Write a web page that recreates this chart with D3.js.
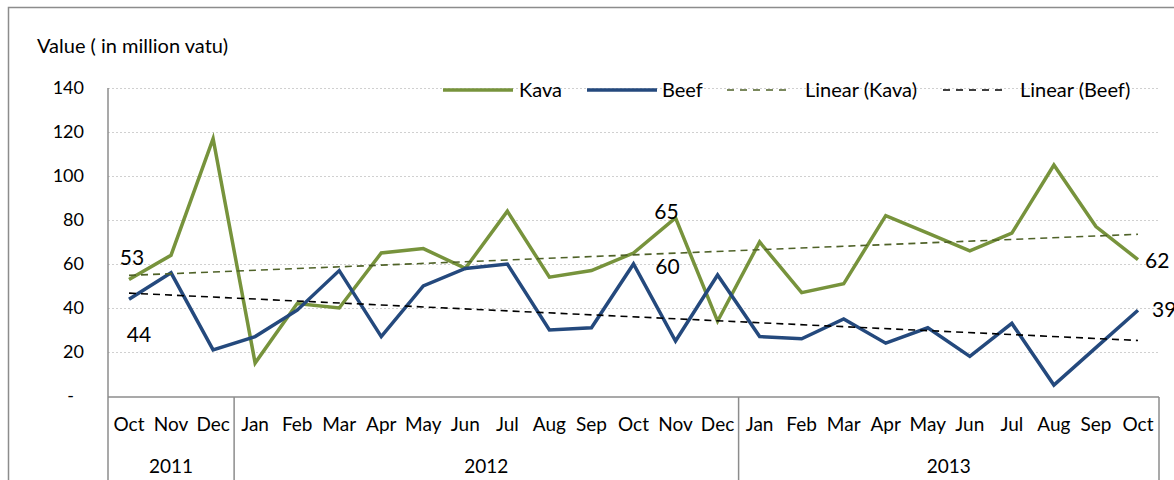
<!DOCTYPE html>
<html>
  <head>
    <meta charset="utf-8">
    <title>Kava and Beef exports</title>
    <script src="https://cdn.jsdelivr.net/npm/d3@7"></script>
    <style>
      body { margin: 0; background: #fff; }
      text { font-family: 'Lato', 'Open Sans', sans-serif; fill: #000; }
      .tick_label { font-size: 18px; text-anchor: end; }
      .month_label { font-size: 19px; text-anchor: middle; }
      .year_label { font-size: 19px; text-anchor: middle; }
      .axis_title { font-size: 20px; }
      .legend_text { font-size: 20px; }
      .data_label { font-size: 21px; }
      .grid { stroke: #d0d0d0; stroke-width: 1px; stroke-dasharray: 2,2; }
      .axis_line { stroke: #8c8c8c; stroke-width: 1.5px; fill: none; }
      .series { fill: none; stroke-width: 3.5px; stroke-linejoin: miter; }
      .trend { fill: none; stroke-width: 1.6px; stroke-dasharray: 7,5; }
    </style>
  </head>
  <body>
    <script>

      // data
      var months = ['Oct', 'Nov', 'Dec',
                    'Jan', 'Feb', 'Mar', 'Apr', 'May', 'Jun', 'Jul', 'Aug', 'Sep', 'Oct', 'Nov', 'Dec',
                    'Jan', 'Feb', 'Mar', 'Apr', 'May', 'Jun', 'Jul', 'Aug', 'Sep', 'Oct'];
      var years = ['2011', '2012', '2013'];
      var monthsPerYear = [3, 12, 10];

      var kava = [53, 64, 117, 15, 42, 40, 65, 67, 58, 84, 54, 57, 65, 81, 34, 70, 47, 51, 82, 74, 66, 74, 105, 77, 62];
      var beef = [44, 56, 21, 27, 39, 57, 27, 50, 58, 60, 30, 31, 60, 25, 55, 27, 26, 35, 24, 31, 18, 33, 5, 22, 39];

      var yTicks = [0, 20, 40, 60, 80, 100, 120, 140];

      // labelled points: [series, index]
      var labelled = [['kava', 0], ['beef', 0], ['kava', 12], ['beef', 12], ['kava', 24], ['beef', 24]];

      var kavaColor = '#77933c';
      var beefColor = '#24497d';
      var kavaTrendColor = '#4f6228';
      var beefTrendColor = '#000000';

      // layout
      var outerWidth = 1174;
      var outerHeight = 480;
      var plot = { left: 108, right: 1159, top: 88, bottom: 396 };

      var svg = d3.select('body').append('svg')
        .attr('width', outerWidth)
        .attr('height', outerHeight);

      // chart border
      svg.append('rect')
        .attr('x', 8.5).attr('y', 7.5)
        .attr('width', 1200).attr('height', 500)
        .attr('fill', 'none')
        .attr('stroke', '#8c8c8c')
        .attr('stroke-width', 1.5);

      var keys = months.map(function(m, i) { return i; });

      var xScale = d3.scaleBand()
        .domain(keys)
        .range([plot.left, plot.right])
        .padding(0);

      var xc = function(i) { return xScale(i) + xScale.bandwidth() / 2; };

      var yScale = d3.scaleLinear()
        .domain([0, 140])
        .range([plot.bottom, plot.top]);

      // grid lines
      svg.selectAll('.grid')
        .data(yTicks.filter(function(d) { return d > 0; }))
        .enter()
        .append('line')
        .attr('class', 'grid')
        .attr('x1', plot.left).attr('x2', plot.right)
        .attr('y1', function(d) { return Math.round(yScale(d)) + 0.5; })
        .attr('y2', function(d) { return Math.round(yScale(d)) + 0.5; });

      // y tick labels
      svg.selectAll('.tick_label')
        .data(yTicks)
        .enter()
        .append('text')
        .attr('class', 'tick_label')
        .attr('x', function(d) { return d == 0 ? 74 : 84; })
        .attr('y', function(d) { return yScale(d) + 6; })
        .text(function(d) { return d == 0 ? '-' : d; });

      svg.append('text')
        .attr('class', 'axis_title')
        .attr('x', 37)
        .attr('y', 53)
        .text('Value ( in million vatu)');

      // axes
      svg.append('line')
        .attr('class', 'axis_line')
        .attr('x1', plot.left).attr('x2', plot.left)
        .attr('y1', plot.top).attr('y2', outerHeight);

      svg.append('line')
        .attr('class', 'axis_line')
        .attr('x1', plot.left).attr('x2', plot.right)
        .attr('y1', plot.bottom + 1).attr('y2', plot.bottom + 1);

      // year separators and labels
      var start = 0;
      var yearGroups = years.map(function(y, i) {
        var g = { year: y, first: start, last: start + monthsPerYear[i] - 1 };
        start += monthsPerYear[i];
        return g;
      });

      svg.selectAll('.separator')
        .data(yearGroups)
        .enter()
        .append('line')
        .attr('class', 'axis_line')
        .attr('x1', function(d) { return xScale(d.last) + xScale.bandwidth(); })
        .attr('x2', function(d) { return xScale(d.last) + xScale.bandwidth(); })
        .attr('y1', plot.bottom + 1)
        .attr('y2', outerHeight);

      svg.selectAll('.year_label')
        .data(yearGroups)
        .enter()
        .append('text')
        .attr('class', 'year_label')
        .attr('x', function(d) { return (xScale(d.first) + xScale(d.last) + xScale.bandwidth()) / 2; })
        .attr('y', 473)
        .text(function(d) { return d.year; });

      svg.selectAll('.month_label')
        .data(months)
        .enter()
        .append('text')
        .attr('class', 'month_label')
        .attr('x', function(d, i) { return xc(i); })
        .attr('y', 431)
        .text(function(d) { return d; });

      // trend lines (least squares, like Excel's linear trendline)
      function trend(values) {
        var n = values.length;
        var mx = d3.mean(keys), my = d3.mean(values);
        var sxy = d3.sum(keys, function(k, i) { return (k - mx) * (values[i] - my); });
        var sxx = d3.sum(keys, function(k) { return (k - mx) * (k - mx); });
        var b = sxy / sxx, a = my - b * mx;
        return [[0, a], [n - 1, a + b * (n - 1)]];
      }

      var line = d3.line()
        .x(function(d) { return xc(d[0]); })
        .y(function(d) { return yScale(d[1]); });

      var series = [
        { name: 'kava', values: kava, color: kavaColor },
        { name: 'beef', values: beef, color: beefColor }
      ];

      svg.selectAll('.series')
        .data(series)
        .enter()
        .append('path')
        .attr('class', 'series')
        .attr('stroke', function(d) { return d.color; })
        .attr('d', function(d) { return line(d.values.map(function(v, i) { return [i, v]; })); });

      svg.append('path')
        .attr('class', 'trend')
        .attr('stroke', kavaTrendColor)
        .attr('d', line(trend(kava)));

      svg.append('path')
        .attr('class', 'trend')
        .attr('stroke', beefTrendColor)
        .attr('d', line(trend(beef)));

      // data labels
      var offsets = {
        'kava0': [3, -14, 'middle'], 'beef0': [10, 43, 'middle'],
        'kava12': [33, -34, 'middle'], 'beef12': [34, 10, 'middle'],
        'kava24': [7, 8, 'start'], 'beef24': [14, 7, 'start']
      };
      svg.selectAll('.data_label')
        .data(labelled)
        .enter()
        .append('text')
        .attr('class', 'data_label')
        .attr('text-anchor', function(d) { return offsets[d[0] + d[1]][2]; })
        .attr('x', function(d) { return xc(d[1]) + offsets[d[0] + d[1]][0]; })
        .attr('y', function(d) {
          var v = d[0] == 'kava' ? kava[d[1]] : beef[d[1]];
          return yScale(v) + offsets[d[0] + d[1]][1];
        })
        .text(function(d) { return d[0] == 'kava' ? kava[d[1]] : beef[d[1]]; });

      // legend (no background, gridline shows through)
      var legendItems = [
        { label: 'Kava', color: kavaColor, dash: null, width: 3.5, x: 443, len: 70, tx: 76 },
        { label: 'Beef', color: beefColor, dash: null, width: 3.5, x: 587, len: 70, tx: 75 },
        { label: 'Linear (Kava)', color: kavaTrendColor, dash: '7,6', width: 1.6, x: 727, len: 64, tx: 78 },
        { label: 'Linear (Beef)', color: beefTrendColor, dash: '7,6', width: 1.6, x: 943, len: 64, tx: 77 }
      ];

      var li = svg.selectAll('.legend_item')
        .data(legendItems)
        .enter()
        .append('g')
        .attr('transform', function(d) { return 'translate(' + d.x + ',90)'; });

      li.append('line')
        .attr('x1', 0).attr('x2', function(d) { return d.len; })
        .attr('stroke', function(d) { return d.color; })
        .attr('stroke-width', function(d) { return d.width; })
        .attr('stroke-dasharray', function(d) { return d.dash; });

      li.append('text')
        .attr('class', 'legend_text')
        .attr('x', function(d) { return d.tx; })
        .attr('y', 7)
        .text(function(d) { return d.label; });

    </script>
  </body>
</html>
